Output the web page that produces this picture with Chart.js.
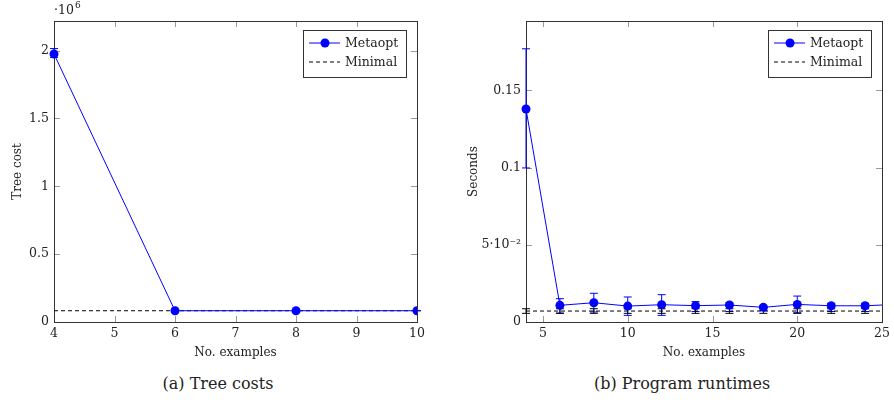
<!DOCTYPE html>
<html>
<head>
<meta charset="utf-8">
<script src="https://cdn.jsdelivr.net/npm/chart.js@4.4.1/dist/chart.umd.min.js"></script>
<style>
  body { margin: 0; background: #fff; width: 894px; height: 403px; overflow: hidden; position: relative; }
  canvas { position: absolute; top: 0; }
  .cap { position: absolute; top: 374px; font-family: "DejaVu Serif", serif; font-size: 16px; color: #222; white-space: nowrap; transform: translateX(-50%); }
</style>
</head>
<body>
<canvas id="tree_cost" width="450" height="365" style="left:0"></canvas>
<canvas id="runtime" width="434" height="365" style="left:460px"></canvas>
<div class="cap" style="left:218px">(a) Tree costs</div>
<div class="cap" style="left:682px">(b) Program runtimes</div>
<script>
// (a) tree costs
const examplesA = [4, 6, 8, 10];
const metaoptA = [1975000, 83000, 83000, 83000];
const metaoptAHi = [2015000, 83000, 83000, 83000];
const metaoptALo = [1950000, 83000, 83000, 83000];
const minimalA = [83000, 83000, 83000, 83000];
const xTicksA = [4, 5, 6, 7, 8, 9, 10];
const yTicksA = [0, 500000, 1000000, 1500000, 2000000];

// (b) program runtimes
const examplesB = [4, 6, 8, 10, 12, 14, 16, 18, 20, 22, 24, 26];
const metaoptB = [0.138, 0.0108, 0.0125, 0.0103, 0.0112, 0.0106, 0.011, 0.0095, 0.0114, 0.0105, 0.0105, 0.0115];
const metaoptBHi = [0.177, 0.0151, 0.0186, 0.0162, 0.0177, 0.0132, 0.0125, 0.0105, 0.0168, 0.012, 0.012, 0.013];
const metaoptBLo = [0.0998, 0.0058, 0.0065, 0.0043, 0.0043, 0.0068, 0.0068, 0.0075, 0.006, 0.0068, 0.0068, 0.0068];
const minimalB = [0.0071, 0.0071, 0.0071, 0.0071, 0.0071, 0.0071, 0.0071, 0.0071, 0.0071, 0.0071, 0.0071, 0.0071];
const minimalBHi = [0.0086, 0.0086, 0.0086, 0.0086, 0.0086, 0.0086, 0.0086, 0.0086, 0.0086, 0.0086, 0.0086, 0.0086];
const minimalBLo = [0.0056, 0.0056, 0.0056, 0.0056, 0.0056, 0.0056, 0.0056, 0.0056, 0.0056, 0.0056, 0.0056, 0.0056];
const xTicksB = [5, 10, 15, 20, 25];
const yTicksB = [0, 0.05, 0.1, 0.15];

Chart.defaults.font.family = "DejaVu Serif";
Chart.defaults.font.size = 12;
Chart.defaults.color = "#222";

const BLUE = "#0000ff";

// frame, inward ticks, error bars
const framePlugin = {
  id: "frame",
  beforeDatasetsDraw(chart) {
    const ctx = chart.ctx;
    const a = chart.chartArea;
    const xs = chart.scales.x, ys = chart.scales.y;
    ctx.save();
    ctx.strokeStyle = "#999";
    ctx.lineWidth = 1;
    ctx.beginPath();
    xs.ticks.forEach((t) => {
      let px = Math.round(xs.getPixelForValue(t.value)) + 0.5;
      ctx.moveTo(px, a.bottom); ctx.lineTo(px, a.bottom - 6);
      ctx.moveTo(px, a.top); ctx.lineTo(px, a.top + 6);
    });
    ys.ticks.forEach((t) => {
      let py = Math.round(ys.getPixelForValue(t.value)) + 0.5;
      ctx.moveTo(a.left, py); ctx.lineTo(a.left + 6, py);
      ctx.moveTo(a.right, py); ctx.lineTo(a.right - 6, py);
    });
    ctx.stroke();
    ctx.strokeStyle = "#333";
    ctx.strokeRect(Math.round(a.left) + 0.5, Math.round(a.top) + 0.5, Math.round(a.right - a.left), Math.round(a.bottom - a.top));

    // error bars
    chart.data.datasets.forEach((ds) => {
      if (!ds.errHi) return;
      ctx.strokeStyle = ds.borderColor;
      ctx.beginPath();
      ds.data.forEach((p, i) => {
        let px = xs.getPixelForValue(p.x);
        if (px > a.right + 1) return;
        let hi = ys.getPixelForValue(ds.errHi[i]);
        let lo = ys.getPixelForValue(ds.errLo[i]);
        ctx.moveTo(px, hi); ctx.lineTo(px, lo);
        ctx.moveTo(px - 4, hi); ctx.lineTo(px + 4, hi);
        ctx.moveTo(px - 4, lo); ctx.lineTo(px + 4, lo);
      });
      ctx.stroke();
    });
    ctx.restore();
  },
  afterDraw(chart) {
    const ctx = chart.ctx;
    const a = chart.chartArea;
    ctx.save();
    // legend box
    let bx = a.right - 11 - 103, by = a.top + 9;
    ctx.fillStyle = "#fff";
    ctx.fillRect(bx, by, 103, 47);
    ctx.strokeStyle = "#333";
    ctx.lineWidth = 1;
    ctx.strokeRect(Math.round(bx) + 0.5, Math.round(by) + 0.5, 103, 47);
    ctx.font = "12.5px 'DejaVu Serif'";
    ctx.textBaseline = "middle";
    chart.data.datasets.forEach((ds, i) => {
      let ry = by + 13 + i * 19;
      ctx.strokeStyle = ds.borderColor;
      ctx.setLineDash(ds.borderDash || []);
      ctx.beginPath();
      ctx.moveTo(bx + 6, ry); ctx.lineTo(bx + 37, ry);
      ctx.stroke();
      ctx.setLineDash([]);
      if (ds.pointRadius) {
        ctx.fillStyle = ds.backgroundColor;
        ctx.beginPath();
        ctx.arc(bx + 22, ry, 4.5, 0, Math.PI * 2);
        ctx.fill();
      }
      ctx.fillStyle = "#222";
      ctx.fillText(ds.label, bx + 42, ry + 1);
    });
    // exponent label
    if (chart.options.plugins.frame && chart.options.plugins.frame.exponent) {
      ctx.font = "12.5px 'DejaVu Serif'";
      ctx.textBaseline = "alphabetic";
      ctx.fillText("·10", a.left, 14);
      let w = ctx.measureText("·10").width;
      ctx.font = "9px 'DejaVu Serif'";
      ctx.fillText(chart.options.plugins.frame.exponent, a.left + w + 1, 8);
    }
    ctx.restore();
  },
};

function makeData(xs, ys) {
  return xs.map((x, i) => ({ x, y: ys[i] }));
}

function buildChart(el, cfg) {
  return new Chart(el.getContext("2d"), {
    type: "line",
    data: {
      datasets: [
        {
          label: "Metaopt",
          data: makeData(cfg.xs, cfg.meta),
          errHi: cfg.metaHi,
          errLo: cfg.metaLo,
          borderColor: BLUE,
          backgroundColor: BLUE,
          borderWidth: 1,
          pointRadius: 4.5,
          pointBorderWidth: 0,
          clip: { left: 8, top: 8, right: 0, bottom: 8 },
        },
        {
          label: "Minimal",
          data: makeData(cfg.xs, cfg.min),
          errHi: cfg.minHi,
          errLo: cfg.minLo,
          borderColor: "#000",
          borderWidth: 1,
          borderDash: [4, 3],
          pointRadius: 0,
          clip: 0,
        },
      ],
    },
    options: {
      responsive: false,
      animation: false,
      devicePixelRatio: 1,
      layout: { padding: { top: 21, right: cfg.padRight, left: 0, bottom: 0 } },
      plugins: {
        legend: { display: false },
        tooltip: { enabled: false },
        frame: { exponent: cfg.exponent },
      },
      scales: {
        x: {
          type: "linear",
          min: cfg.xMin,
          max: cfg.xMax,
          grid: { display: false, drawTicks: false },
          border: { display: false },
          afterBuildTicks: (s) => { s.ticks = cfg.xTicks.map((v) => ({ value: v })); },
          afterFit: (s) => { s.height = 43; },
          ticks: { padding: 4, maxRotation: 0, autoSkip: false, font: { size: 12.5 } },
          title: { display: true, text: "No. examples", padding: { top: 0, bottom: 5 } },
        },
        y: {
          type: "linear",
          min: 0,
          max: cfg.yMax,
          grid: { display: false, drawTicks: false },
          border: { display: false },
          afterBuildTicks: (s) => { s.ticks = cfg.yTicks.map((v) => ({ value: v })); },
          afterFit: (s) => { s.width = cfg.yWidth; },
          ticks: { padding: 5, callback: cfg.yFmt, font: { size: 12.5 } },
          title: { display: true, text: cfg.yTitle, padding: { top: cfg.yTitlePad, bottom: 0 } },
        },
      },
    },
    plugins: [framePlugin],
  });
}

buildChart(document.getElementById("tree_cost"), {
  xs: examplesA, meta: metaoptA, metaHi: metaoptAHi, metaLo: metaoptALo,
  min: minimalA, minHi: null, minLo: null,
  xMin: 4, xMax: 10, yMax: 2218000, xTicks: xTicksA, yTicks: yTicksA,
  yFmt: (v) => String(v / 1000000),
  yTitle: "Tree cost", yTitlePad: 11, yWidth: 54, padRight: 33, exponent: "6",
});

buildChart(document.getElementById("runtime"), {
  xs: examplesB, meta: metaoptB, metaHi: metaoptBHi, metaLo: metaoptBLo,
  min: minimalB, minHi: minimalBHi, minLo: minimalBLo,
  xMin: 4, xMax: 25, yMax: 0.195, xTicks: xTicksB, yTicks: yTicksB,
  yFmt: (v) => (v === 0.05 ? "5·10⁻²" : String(v)),
  yTitle: "Seconds", yTitlePad: 7, yWidth: 66, padRight: 5, exponent: null,
});
</script>
</body>
</html>
